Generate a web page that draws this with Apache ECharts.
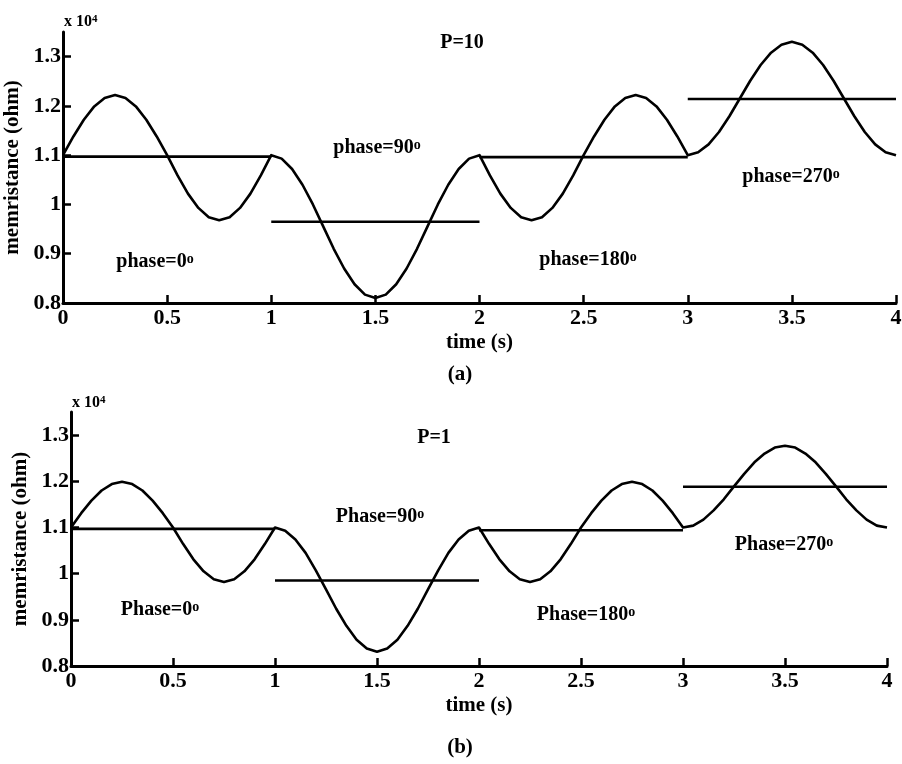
<!DOCTYPE html>
<html>
<head>
<meta charset="utf-8">
<script src="https://cdn.jsdelivr.net/npm/echarts@6/dist/echarts.min.js"></script>
<style>
html,body{margin:0;padding:0;background:#fff;}
#chart{width:902px;height:764px;}
</style>
</head>
<body>
<div id="chart"></div>
<script>
// time samples (s)
const time = [0,0.05,0.1,0.15,0.2,0.25,0.3,0.35,0.4,0.45,0.5,0.55,0.6,0.65,0.7,0.75,0.8,0.85,0.9,0.95,
  1,1.05,1.1,1.15,1.2,1.25,1.3,1.35,1.4,1.45,1.5,1.55,1.6,1.65,1.7,1.75,1.8,1.85,1.9,1.95,
  2,2.05,2.1,2.15,2.2,2.25,2.3,2.35,2.4,2.45,2.5,2.55,2.6,2.65,2.7,2.75,2.8,2.85,2.9,2.95,
  3,3.05,3.1,3.15,3.2,3.25,3.3,3.35,3.4,3.45,3.5,3.55,3.6,3.65,3.7,3.75,3.8,3.85,3.9,3.95,4];

// memristance (x 10^4 ohm), P = 10
const memP10 = [
  1.100,1.138,1.172,1.199,1.216,1.222,1.216,1.199,1.172,1.138,1.100,1.059,1.022,0.993,0.974,0.968,0.974,0.993,1.022,1.059,
  1.100,1.093,1.072,1.040,1.000,0.955,0.910,0.870,0.838,0.817,0.810,0.817,0.838,0.870,0.910,0.955,1.000,1.040,1.072,1.093,
  1.100,1.059,1.022,0.993,0.974,0.968,0.974,0.993,1.022,1.059,1.100,1.138,1.172,1.199,1.216,1.222,1.216,1.199,1.172,1.138,
  1.100,1.106,1.122,1.147,1.179,1.215,1.251,1.283,1.308,1.324,1.330,1.324,1.308,1.283,1.251,1.215,1.179,1.147,1.122,1.106,1.100];

// memristance (x 10^4 ohm), P = 1
const memP1 = [
  1.100,1.131,1.158,1.180,1.194,1.199,1.194,1.180,1.158,1.131,1.100,1.064,1.031,1.005,0.988,0.982,0.988,1.005,1.031,1.064,
  1.100,1.093,1.074,1.045,1.007,0.966,0.924,0.887,0.857,0.838,0.831,0.838,0.857,0.887,0.924,0.966,1.007,1.045,1.074,1.093,
  1.100,1.064,1.031,1.005,0.988,0.982,0.988,1.005,1.031,1.064,1.100,1.131,1.158,1.180,1.194,1.199,1.194,1.180,1.158,1.131,
  1.100,1.104,1.117,1.137,1.161,1.189,1.216,1.241,1.260,1.273,1.277,1.273,1.260,1.241,1.216,1.189,1.161,1.137,1.117,1.104,1.100];

// mean level per phase segment
const segStart = [0, 1, 2, 3];
const segEnd = [1, 2, 3, 4];
const meanP10 = [1.097, 0.965, 1.096, 1.214];
const meanP1 = [1.097, 0.985, 1.094, 1.188];

// tick labels
const xTicks = [0, 0.5, 1, 1.5, 2, 2.5, 3, 3.5, 4];
const yTicks = [0.8, 0.9, 1.0, 1.1, 1.2, 1.3];

const FONT = 'Liberation Serif, Times New Roman, serif';

function mkX(i) {
  return {
    type: 'value', gridIndex: i, min: 0, max: 4, interval: 0.5,
    name: 'time (s)', nameLocation: 'middle', nameGap: 29,
    nameTextStyle: {fontFamily: FONT, fontWeight: 'bold', fontSize: 21, color: '#000'},
    axisLine: {onZero: false, lineStyle: {color: '#000', width: 3}},
    axisTick: {inside: true, length: 8, lineStyle: {color: '#000', width: 2.5}},
    axisLabel: {fontFamily: FONT, fontWeight: 'bold', fontSize: 22, color: '#000', margin: 4,
      customValues: xTicks},
    splitLine: {show: false}
  };
}
function mkY(i) {
  return {
    type: 'value', gridIndex: i, min: 0.8, max: 1.35,
    name: 'memristance (ohm)', nameLocation: 'middle', nameGap: 34,
    nameTextStyle: {fontFamily: FONT, fontWeight: 'bold', fontSize: 21, color: '#000'},
    axisLine: {onZero: false, lineStyle: {color: '#000', width: 3}},
    axisTick: {inside: true, length: 8, lineStyle: {color: '#000', width: 2.5}, customValues: yTicks},
    axisLabel: {fontFamily: FONT, fontWeight: 'bold', fontSize: 22, color: '#000', margin: 2,
      customValues: yTicks, formatter: v => String(Math.round(v * 10) / 10)},
    splitLine: {show: false}
  };
}

const series = [];
function addPanel(idx, mem, mean) {
  series.push({
    type: 'line', xAxisIndex: idx, yAxisIndex: idx, symbol: 'none', smooth: false,
    lineStyle: {color: '#000', width: 2.6, join: 'round'},
    data: time.map((t, k) => [t, mem[k]])
  });
  mean.forEach((m, k) => {
    series.push({
      type: 'line', xAxisIndex: idx, yAxisIndex: idx, symbol: 'none',
      lineStyle: {color: '#000', width: 2.6},
      data: [[segStart[k], m], [segEnd[k], m]]
    });
  });
}
addPanel(0, memP10, meanP10);
addPanel(1, memP1, meanP1);

const rich = {
  s: {fontFamily: FONT, fontWeight: 'bold', fontSize: 14, lineHeight: 9, fill: '#000', verticalAlign: 'top'}
};
function label(txt, x, y, size) {
  return {
    type: 'text', x: x, y: y,
    style: {text: txt, fontFamily: FONT, fontWeight: 'bold', fontSize: size || 20, fill: '#000',
      textAlign: 'center', textVerticalAlign: 'middle', rich: rich}
  };
}
function expo(x, y) {
  return {
    type: 'text', x: x, y: y,
    style: {text: 'x 10{e|4}', fontFamily: FONT, fontWeight: 'bold', fontSize: 16, fill: '#000',
      textAlign: 'left', textVerticalAlign: 'middle',
      rich: {e: {fontFamily: FONT, fontWeight: 'bold', fontSize: 11, lineHeight: 8, fill: '#000', verticalAlign: 'top'}}}
  };
}

const graphic = [
  expo(64, 22),
  label('P=10', 462, 43),
  label('phase=0{s|o}', 155, 262),
  label('phase=90{s|o}', 377, 148),
  label('phase=180{s|o}', 588, 260),
  label('phase=270{s|o}', 791, 177),
  label('(a)', 460, 375, 21),
  expo(72, 403),
  label('P=1', 434, 438),
  label('Phase=0{s|o}', 160, 610),
  label('Phase=90{s|o}', 380, 517),
  label('Phase=180{s|o}', 586, 615),
  label('Phase=270{s|o}', 784, 545),
  label('(b)', 460, 748, 21)
];

const chart = echarts.init(document.getElementById('chart'), null, {renderer: 'canvas'});
chart.setOption({
  animation: false,
  backgroundColor: '#fff',
  grid: [
    {left: 63, top: 32, width: 833, height: 271, containLabel: false, outerBoundsMode: 'none'},
    {left: 71, top: 412, width: 816, height: 254, containLabel: false, outerBoundsMode: 'none'}
  ],
  xAxis: [mkX(0), mkX(1)],
  yAxis: [mkY(0), mkY(1)],
  series: series,
  graphic: graphic
});
</script>
</body>
</html>
